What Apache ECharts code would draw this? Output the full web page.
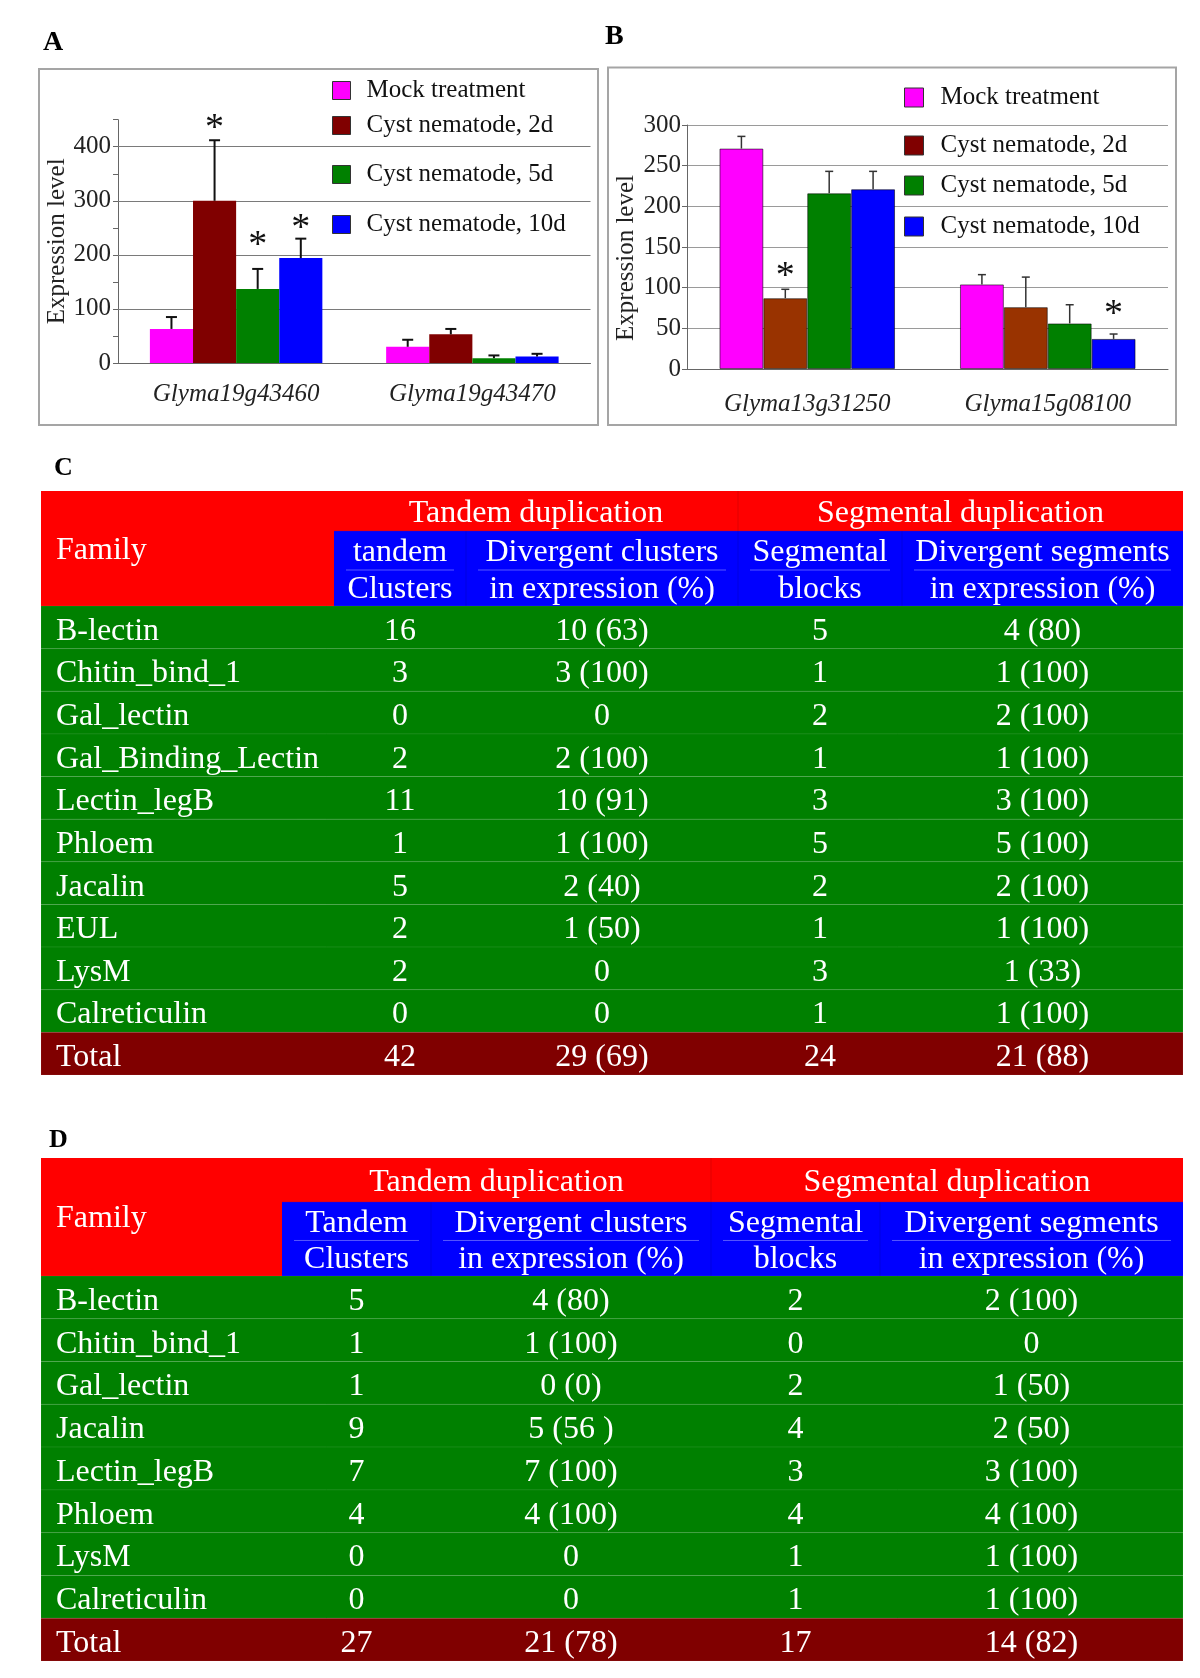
<!DOCTYPE html>
<html><head><meta charset="utf-8">
<script src="https://cdn.jsdelivr.net/npm/echarts@6/dist/echarts.min.js"></script>
<style>html,body{margin:0;padding:0;background:#fff}#c{width:1200px;height:1678px}</style>
</head><body><div id="c"></div>
<script>
const FONT = '"Liberation Serif", "Times New Roman", serif';

// ---------- Panel A data ----------
const seriesNames = ['Mock treatment', 'Cyst nematode, 2d', 'Cyst nematode, 5d', 'Cyst nematode, 10d'];
const categoriesA = ['Glyma19g43460', 'Glyma19g43470'];
const mockA = [63, 30];
const d2A = [300, 53];
const d5A = [137, 9];
const d10A = [194, 12];
const mockErrA = [85, 43];
const d2ErrA = [412, 63];
const d5ErrA = [174, 14];
const d10ErrA = [230, 17];
const mockStarA = ['-', '-'];
const d2StarA = [444, '-'];
const d5StarA = [227, '-'];
const d10StarA = [259, '-'];
const gridLinesA = [100, 200, 300, 400];

// ---------- Panel B data ----------
const categoriesB = ['Glyma13g31250', 'Glyma15g08100'];
const mockB = [271, 104];
const d2B = [87, 76];
const d5B = [216, 56];
const d10B = [221, 37];
const mockErrB = [286, 116];
const d2ErrB = [98, 113];
const d5ErrB = [243, 79];
const d10ErrB = [243, 43];
const mockStarB = ['-', '-'];
const d2StarB = [120, '-'];
const d5StarB = ['-', '-'];
const d10StarB = ['-', 74];

// ---------- Table C data ----------
const headTopC = ['Tandem duplication', 'Segmental duplication'];
const subHeadC = [['tandem', 'Clusters'], ['Divergent clusters', 'in expression (%)'], ['Segmental', 'blocks'], ['Divergent segments', 'in expression (%)']];
const familyC = ['B-lectin', 'Chitin_bind_1', 'Gal_lectin', 'Gal_Binding_Lectin', 'Lectin_legB', 'Phloem', 'Jacalin', 'EUL', 'LysM', 'Calreticulin', 'Total'];
const tandemC = ['16', '3', '0', '2', '11', '1', '5', '2', '2', '0', '42'];
const divClustC = ['10 (63)', '3 (100)', '0', '2 (100)', '10 (91)', '1 (100)', '2 (40)', '1 (50)', '0', '0', '29 (69)'];
const segC = ['5', '1', '2', '1', '3', '5', '2', '1', '3', '1', '24'];
const divSegC = ['4 (80)', '1 (100)', '2 (100)', '1 (100)', '3 (100)', '5 (100)', '2 (100)', '1 (100)', '1 (33)', '1 (100)', '21 (88)'];

// ---------- Table D data ----------
const headTopD = ['Tandem duplication', 'Segmental duplication'];
const subHeadD = [['Tandem', 'Clusters'], ['Divergent clusters', 'in expression (%)'], ['Segmental', 'blocks'], ['Divergent segments', 'in expression (%)']];
const familyD = ['B-lectin', 'Chitin_bind_1', 'Gal_lectin', 'Jacalin', 'Lectin_legB', 'Phloem', 'LysM', 'Calreticulin', 'Total'];
const tandemD = ['5', '1', '1', '9', '7', '4', '0', '0', '27'];
const divClustD = ['4 (80)', '1 (100)', '0 (0)', '5 (56 )', '7 (100)', '4 (100)', '0', '0', '21 (78)'];
const segD = ['2', '0', '2', '4', '3', '4', '1', '1', '17'];
const divSegD = ['2 (100)', '0', '1 (50)', '2 (50)', '3 (100)', '4 (100)', '1 (100)', '1 (100)', '14 (82)'];

// ---------- styling / layout ----------
const colorsA = ['#FF00FF', '#800000', '#008000', '#0000FF'];
const colorsB = ['#FF00FF', '#993300', '#008000', '#0000FF'];
const legendColorsB = ['#FF00FF', '#800000', '#008000', '#0000FF'];
const BAR_GAP = 0.27;
const TABLE_W = 1142;
const TFONT = '32px ' + FONT;
const edgesC = [0, 293, 425, 697, 861, 1142];
const edgesD = [0, 241, 390, 670, 839, 1142];
const LEG_A = {left: 332, cy: [90, 125, 174, 224]};
const LEG_B = {left: 904, cy: [96, 144, 184, 225]};

const valsA = [mockA, d2A, d5A, d10A];
const errA = [mockErrA, d2ErrA, d5ErrA, d10ErrA];
const starA = [mockStarA, d2StarA, d5StarA, d10StarA];
const valsB = [mockB, d2B, d5B, d10B];
const errB = [mockErrB, d2ErrB, d5ErrB, d10ErrB];
const starB = [mockStarB, d2StarB, d5StarB, d10StarB];

function errRender(sIdx, capW, lw, color) {
  return function (params, api) {
    const cat = api.value(0), top = api.value(1), err = api.value(2), star = api.value(3);
    const band = api.size([1, 0])[0];
    const barW = band * (1 - BAR_GAP) / 4;
    const p = api.coord([cat, top]);
    const e = api.coord([cat, err]);
    const x = p[0] + (sIdx - 1.5) * barW;
    const ch = [
      {type: 'line', shape: {x1: x, y1: p[1], x2: x, y2: e[1]}, style: {stroke: color, lineWidth: lw}},
      {type: 'line', shape: {x1: x - capW / 2, y1: e[1], x2: x + capW / 2, y2: e[1]}, style: {stroke: color, lineWidth: lw}}
    ];
    if (!isNaN(star)) {
      const s = api.coord([cat, star]);
      ch.push({type: 'text', x: x, y: s[1] + 6, style: {text: '*', font: '38px ' + FONT, fill: '#111', align: 'center', verticalAlign: 'middle'}});
    }
    return {type: 'group', children: ch};
  };
}

const series = [];
// Panel A bars
valsA.forEach((v, k) => {
  const s = {
    name: seriesNames[k], type: 'bar', xAxisIndex: 0, yAxisIndex: 0, data: v,
    barGap: '0%', barCategoryGap: (BAR_GAP * 100) + '%', z: 2,
    itemStyle: {color: colorsA[k]}
  };
  if (k === 0) {
    s.markLine = {z: 1, silent: true, symbol: 'none', label: {show: false},
      lineStyle: {color: '#7a7a7a', type: 'solid', width: 1},
      data: gridLinesA.map(g => ({yAxis: g}))};
  }
  series.push(s);
});
valsA.forEach((v, k) => {
  series.push({
    type: 'custom', xAxisIndex: 0, yAxisIndex: 0, z: 3, clip: false,
    renderItem: errRender(k, 11, 2, '#111'),
    data: v.map((val, i) => [i, val, errA[k][i], starA[k][i]])
  });
});
// Panel B bars
valsB.forEach((v, k) => {
  series.push({
    name: seriesNames[k], type: 'bar', xAxisIndex: 1, yAxisIndex: 1, data: v,
    barGap: '0%', barCategoryGap: (BAR_GAP * 100) + '%', z: 2,
    itemStyle: {color: colorsB[k], borderColor: 'rgba(0,0,0,0.55)', borderWidth: 1}
  });
});
valsB.forEach((v, k) => {
  series.push({
    type: 'custom', xAxisIndex: 1, yAxisIndex: 1, z: 3, clip: false,
    renderItem: errRender(k, 8, 1.5, '#333'),
    data: v.map((val, i) => [i, val, errB[k][i], starB[k][i]])
  });
});

// Tables
function tableRender(cols, edges, totalIdx) {
  return function (params, api) {
    const i = api.value(1);
    const c0 = api.coord([0, i]);
    const h = api.size([0, 1])[1];
    const xR = api.coord([edges[edges.length - 1], i])[0];
    const ch = [{type: 'rect', shape: {x: c0[0], y: c0[1] - h / 2, width: xR - c0[0], height: h},
      style: {fill: i === totalIdx ? '#800000' : '#008000', stroke: 'rgba(255,255,255,0.07)', lineWidth: 1}}];
    cols.forEach((col, k) => {
      const xl = api.coord([edges[k], i])[0], xr = api.coord([edges[k + 1], i])[0];
      ch.push({type: 'text', x: k === 0 ? xl + 15 : (xl + xr) / 2, y: c0[1] + 4,
        style: {text: col[i], font: TFONT, fill: '#fff', align: k === 0 ? 'left' : 'center', verticalAlign: 'middle'}});
    });
    return {type: 'group', children: ch};
  };
}
series.push({
  type: 'custom', xAxisIndex: 2, yAxisIndex: 2, clip: false,
  renderItem: tableRender([familyC, tandemC, divClustC, segC, divSegC], edgesC, familyC.length - 1),
  data: familyC.map((f, i) => [0, i])
});
series.push({
  type: 'custom', xAxisIndex: 3, yAxisIndex: 3, clip: false,
  renderItem: tableRender([familyD, tandemD, divClustD, segD, divSegD], edgesD, familyD.length - 1),
  data: familyD.map((f, i) => [0, i])
});

// Headers (graphic)
function header(top, subs, top0, mid, bottom, edgesAbs) {
  const g = [];
  const W = edgesAbs[edgesAbs.length - 1] - edgesAbs[0];
  g.push({type: 'rect', shape: {x: edgesAbs[0], y: top0, width: W, height: mid - top0}, style: {fill: '#FF0000'}});
  g.push({type: 'rect', shape: {x: edgesAbs[0], y: top0, width: edgesAbs[1] - edgesAbs[0], height: bottom - top0}, style: {fill: '#FF0000'}});
  g.push({type: 'rect', shape: {x: edgesAbs[1], y: mid, width: edgesAbs[5] - edgesAbs[1], height: bottom - mid}, style: {fill: '#0000FF'}});
  g.push({type: 'line', shape: {x1: edgesAbs[3], y1: top0, x2: edgesAbs[3], y2: bottom}, style: {stroke: 'rgba(0,0,0,0.12)', lineWidth: 1}});
  [2, 4].forEach(k => g.push({type: 'line', shape: {x1: edgesAbs[k], y1: mid, x2: edgesAbs[k], y2: bottom}, style: {stroke: 'rgba(0,0,0,0.12)', lineWidth: 1}}));
  g.push({type: 'line', shape: {x1: edgesAbs[1], y1: mid, x2: edgesAbs[5], y2: mid}, style: {stroke: 'rgba(120,0,120,0.35)', lineWidth: 1}});
  const rowY = (top0 + mid) / 2 + 3;
  g.push({type: 'text', x: (edgesAbs[1] + edgesAbs[3]) / 2, y: rowY, style: {text: top[0], font: TFONT, fill: '#fff', align: 'center', verticalAlign: 'middle'}});
  g.push({type: 'text', x: (edgesAbs[3] + edgesAbs[5]) / 2, y: rowY, style: {text: top[1], font: TFONT, fill: '#fff', align: 'center', verticalAlign: 'middle'}});
  g.push({type: 'text', x: edgesAbs[0] + 15, y: (top0 + bottom) / 2 + 2, style: {text: 'Family', font: TFONT, fill: '#fff', align: 'left', verticalAlign: 'middle'}});
  const bh = bottom - mid;
  subs.forEach((s, k) => {
    const xl = edgesAbs[k + 1], xr = edgesAbs[k + 2], xc = (xl + xr) / 2;
    g.push({type: 'line', shape: {x1: xl + 12, y1: mid + bh * 0.52, x2: xr - 12, y2: mid + bh * 0.52}, style: {stroke: 'rgba(190,190,255,0.45)', lineWidth: 1}});
    g.push({type: 'text', x: xc, y: mid + bh * 0.29, style: {text: s[0], font: TFONT, fill: '#fff', align: 'center', verticalAlign: 'middle'}});
    g.push({type: 'text', x: xc, y: mid + bh * 0.78, style: {text: s[1], font: TFONT, fill: '#fff', align: 'center', verticalAlign: 'middle'}});
  });
  return g;
}
const absC = edgesC.map(e => e + 41);
const absD = edgesD.map(e => e + 41);

const graphic = [
  {type: 'rect', shape: {x: 39, y: 69, width: 559, height: 356}, style: {fill: 'none', stroke: '#a5a5a5', lineWidth: 2}},
  {type: 'rect', shape: {x: 608, y: 67.5, width: 568, height: 357.5}, style: {fill: 'none', stroke: '#a5a5a5', lineWidth: 2}},
  {type: 'text', x: 43, y: 43, style: {text: 'A', font: 'bold 28px ' + FONT, fill: '#000', verticalAlign: 'middle'}},
  {type: 'text', x: 605, y: 37, style: {text: 'B', font: 'bold 28px ' + FONT, fill: '#000', verticalAlign: 'middle'}},
  {type: 'text', x: 54, y: 468, style: {text: 'C', font: 'bold 26px ' + FONT, fill: '#000', verticalAlign: 'middle'}},
  {type: 'text', x: 49, y: 1140, style: {text: 'D', font: 'bold 26px ' + FONT, fill: '#000', verticalAlign: 'middle'}}
].concat(header(headTopC, subHeadC, 491, 531, 606, absC))
 .concat(header(headTopD, subHeadD, 1158, 1202, 1276, absD));

// Legends (one per entry, to match irregular spacing)
const legends = [];
seriesNames.forEach((n, k) => {
  legends.push({left: LEG_A.left, top: LEG_A.cy[k] - 12, padding: 0, icon: 'rect', itemWidth: 18, itemHeight: 18, selectedMode: false,
    data: [{name: n, itemStyle: {color: colorsA[k], borderColor: '#333', borderWidth: 1}}],
    textStyle: {fontFamily: FONT, fontSize: 25, color: '#111', padding: [0, 0, 0, 11]}});
  legends.push({left: LEG_B.left, top: LEG_B.cy[k] - 11, padding: 0, icon: 'rect', itemWidth: 19, itemHeight: 19, selectedMode: false,
    data: [{name: n, itemStyle: {color: legendColorsB[k], borderColor: '#333', borderWidth: 1}}],
    textStyle: {fontFamily: FONT, fontSize: 25, color: '#111', padding: [0, 0, 0, 12]}});
});

const axisText = {fontFamily: FONT, fontSize: 25, color: '#222'};
const option = {
  backgroundColor: '#fff',
  animation: false,
  legend: legends,
  graphic: graphic,
  grid: [
    {left: 118, top: 119.7, width: 472.5, height: 243.3},
    {left: 687, top: 125, width: 481, height: 244},
    {left: 41, top: 606, width: TABLE_W, height: 469},
    {left: 41, top: 1276, width: TABLE_W, height: 385}
  ],
  xAxis: [
    {gridIndex: 0, type: 'category', data: categoriesA, axisTick: {show: false},
      axisLine: {lineStyle: {color: '#666', width: 1}},
      axisLabel: Object.assign({fontStyle: 'italic', margin: 19}, axisText)},
    {gridIndex: 1, type: 'category', data: categoriesB, axisTick: {show: false},
      axisLine: {lineStyle: {color: '#666', width: 1}},
      axisLabel: Object.assign({fontStyle: 'italic', margin: 23}, axisText)},
    {gridIndex: 2, type: 'value', min: 0, max: TABLE_W, show: false},
    {gridIndex: 3, type: 'value', min: 0, max: TABLE_W, show: false}
  ],
  yAxis: [
    {gridIndex: 0, type: 'value', min: 0, max: 450, interval: 50,
      name: 'Expression level', nameLocation: 'middle', nameGap: 46, nameTextStyle: axisText,
      axisLine: {show: true, lineStyle: {color: '#666'}},
      axisTick: {show: true, length: 5, lineStyle: {color: '#666'}},
      axisLabel: Object.assign({margin: 7, formatter: v => (v % 100 === 0 ? String(v) : '')}, axisText),
      splitLine: {show: false}},
    {gridIndex: 1, type: 'value', min: 0, max: 300, interval: 50,
      name: 'Expression level', nameLocation: 'middle', nameGap: 48,
      nameTextStyle: Object.assign({padding: [0, 22, 0, 0]}, axisText),
      axisLine: {show: true, lineStyle: {color: '#666'}},
      axisTick: {show: true, length: 5, lineStyle: {color: '#666'}},
      axisLabel: Object.assign({margin: 6}, axisText),
      splitLine: {show: true, lineStyle: {color: '#9a9a9a', width: 1}}},
    {gridIndex: 2, type: 'category', data: familyC, inverse: true, show: false},
    {gridIndex: 3, type: 'category', data: familyD, inverse: true, show: false}
  ],
  series: series
};
const chart = echarts.init(document.getElementById('c'), null, {renderer: 'canvas'});
chart.setOption(option);
</script>
</body></html>
